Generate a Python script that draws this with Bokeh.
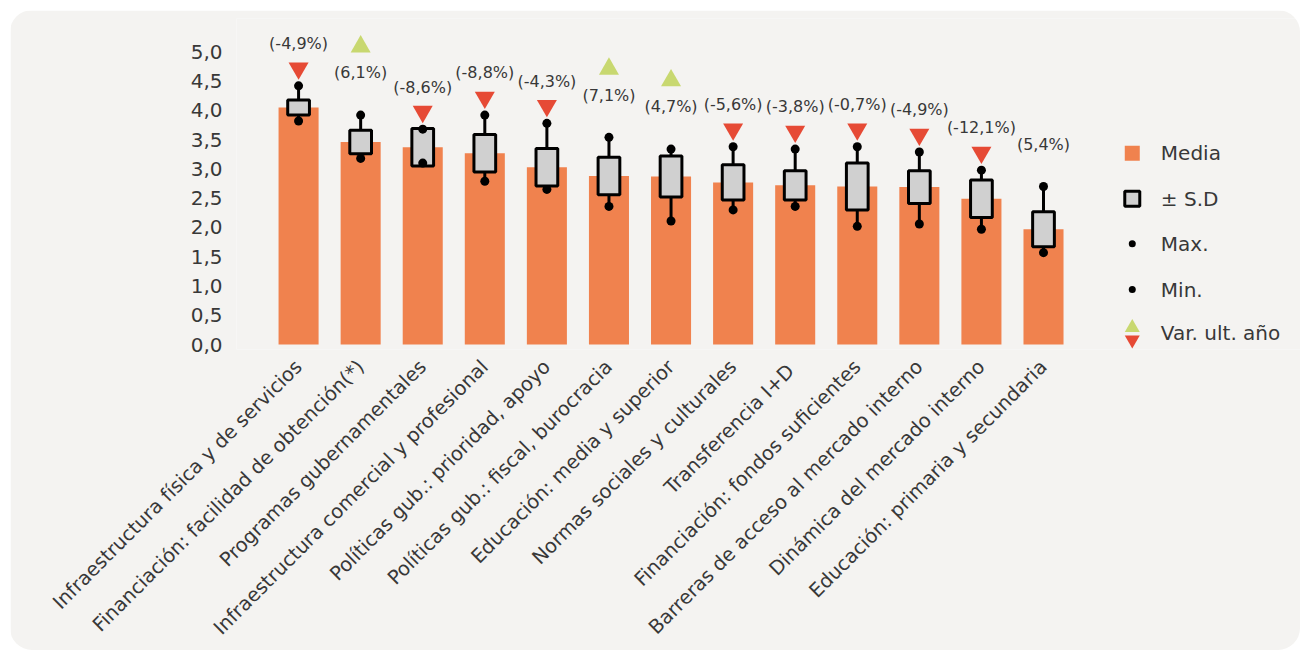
import math
from bokeh.plotting import figure
from bokeh.models import Range1d, FixedTicker, CustomJSTickFormatter
from bokeh.core.properties import value
from bokeh.embed import file_html
from bokeh.resources import INLINE

# ---------------- data ----------------
categories = [
    "Infraestructura física y de servicios",
    "Financiación: facilidad de obtención(*)",
    "Programas gubernamentales",
    "Infraestructura comercial y profesional",
    "Políticas gub.: prioridad, apoyo",
    "Políticas gub.: fiscal, burocracia",
    "Educación: media y superior",
    "Normas sociales y culturales",
    "Transferencia  I+D",
    "Financiación: fondos suficientes",
    "Barreras de acceso al mercado interno",
    "Dinámica del mercado interno",
    "Educación: primaria y secundaria",
]
media = [4.05, 3.46, 3.37, 3.27, 3.03, 2.88, 2.87, 2.77, 2.72, 2.70, 2.69, 2.49, 1.97]
sd = [0.13, 0.20, 0.32, 0.32, 0.32, 0.32, 0.35, 0.30, 0.25, 0.40, 0.28, 0.32, 0.30]
max_vals = [4.42, 3.92, 3.68, 3.92, 3.78, 3.54, 3.34, 3.38, 3.34, 3.38, 3.29, 2.98, 2.70]
min_vals = [3.82, 3.18, 3.10, 2.79, 2.65, 2.36, 2.11, 2.30, 2.36, 2.02, 2.06, 1.97, 1.57]
var_pct = [-4.9, 6.1, -8.6, -8.8, -4.3, 7.1, 4.7, -5.6, -3.8, -0.7, -4.9, -12.1, 5.4]
var_dir = ["down", "up", "down", "down", "down", "up", "up", "down", "down", "down", "down", "down", "none"]
y_ticks = [0.0, 0.5, 1.0, 1.5, 2.0, 2.5, 3.0, 3.5, 4.0, 4.5, 5.0]
legend_labels = ["Media", "± S.D", "Max.", "Min.", "Var. ult. año"]

# ---------------- styles ----------------
FONT = "DejaVu Sans"
BG = "#F4F3F1"
ORANGE = "#F0824E"
BOXGRAY = "#D0D0D0"
RED = "#E64A35"
GREEN = "#C8D870"
TXT = "#383838"

n = len(categories)
xs = list(range(n))
lo = [m - s for m, s in zip(media, sd)]
hi = [m + s for m, s in zip(media, sd)]

p = figure(width=1290, height=640, output_backend="svg", toolbar_location=None,
           x_range=Range1d(-1.0, 16.14), y_range=Range1d(-0.085, 5.571),
           min_border_left=226, min_border_right=0, min_border_top=8, min_border_bottom=300,
           background_fill_color=BG, border_fill_color=BG, outline_line_color=None)
p.styles = {"border-radius": "22px", "overflow": "hidden", "margin": "10px 0 0 10px"}
p.xgrid.visible = False
p.ygrid.visible = False

# bars
p.vbar(x=xs, top=media, width=0.645, fill_color=ORANGE, line_color=None)
# whiskers
p.segment(x0=xs, y0=min_vals, x1=xs, y1=max_vals, line_color="black", line_width=3)
# sd boxes
p.vbar(x=xs, bottom=lo, top=hi, width=0.35, fill_color=BOXGRAY, line_color="black", line_width=3)
# min / max dots
p.scatter(x=xs, y=max_vals, size=9, marker="circle", fill_color="black", line_color=None)
p.scatter(x=xs, y=min_vals, size=9, marker="circle", fill_color="black", line_color=None)

# variation annotations
down_x = [x for x, d in zip(xs, var_dir) if d == "down"]
down_y = [m + 0.30 for m, d in zip(max_vals, var_dir) if d == "down"]
up_x = [x for x, d in zip(xs, var_dir) if d == "up"]
up_y = [m + 1.17 for m, d in zip(max_vals, var_dir) if d == "up"]
p.scatter(x=down_x, y=down_y, marker="inverted_triangle", size=20, fill_color=RED, line_color=None)
p.scatter(x=up_x, y=up_y, marker="triangle", size=20, fill_color=GREEN, line_color=None)

pct_txt = ["(" + f"{v:.1f}".replace(".", ",") + "%)" for v in var_pct]
p.text(x=xs, y=[m + 0.72 for m in max_vals], text=pct_txt, text_align="center",
       text_baseline="middle", text_font=value(FONT), text_font_size="16px", text_color=TXT)

# axes
p.yaxis.ticker = FixedTicker(ticks=y_ticks)
p.yaxis.formatter = CustomJSTickFormatter(code="return tick.toFixed(1).replace('.', ',');")
p.yaxis.axis_line_color = None
p.yaxis.major_tick_line_color = None
p.yaxis.minor_tick_line_color = None
p.yaxis.major_label_standoff = 8
p.yaxis.major_label_text_font = FONT
p.yaxis.major_label_text_font_size = "20px"
p.yaxis.major_label_text_color = TXT

p.xaxis.ticker = FixedTicker(ticks=xs)
p.xaxis.formatter = CustomJSTickFormatter(args=dict(labels=categories),
                                          code="const i = Math.round(tick); return (i >= 0 && i < labels.length) ? labels[i] : '';")
p.xaxis.major_label_orientation = math.pi / 4
p.xaxis.axis_line_color = None
p.xaxis.major_tick_line_color = None
p.xaxis.minor_tick_line_color = None
p.xaxis.major_label_standoff = 8
p.xaxis.major_label_text_font = FONT
p.xaxis.major_label_text_font_size = "19.5px"
p.xaxis.major_label_text_color = TXT

# manual legend
LX = 13.43
LTX = 13.89
ly = [3.27, 2.49, 1.72, 0.94, 0.20]
p.scatter(x=[LX], y=[ly[0]], marker="square", size=15, fill_color=ORANGE, line_color=None)
p.scatter(x=[LX], y=[ly[1]], marker="square", size=15, fill_color=BOXGRAY, line_color="black", line_width=3)
p.scatter(x=[LX, LX], y=[ly[2], ly[3]], marker="circle", size=7, fill_color="black", line_color=None)
p.scatter(x=[LX], y=[ly[4] + 0.09], marker="triangle", size=15, fill_color=GREEN, line_color=None)
p.scatter(x=[LX], y=[ly[4] - 0.12], marker="inverted_triangle", size=15, fill_color=RED, line_color=None)
p.text(x=[LTX] * 5, y=ly, text=legend_labels, text_align="left", text_baseline="middle",
       text_font=value(FONT), text_font_size="20px", text_color=TXT)

open("out.html", "w").write(file_html(p, INLINE))
